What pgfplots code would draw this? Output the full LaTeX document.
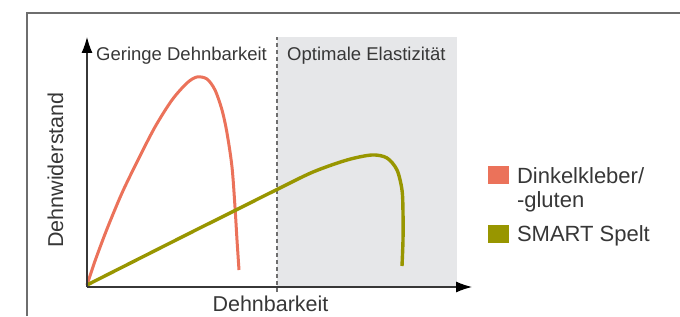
\documentclass[border=0pt]{standalone}
\usepackage{pgfplots}
\pgfplotsset{compat=1.18}
\usetikzlibrary{arrows.meta}
\usepackage{fontspec}
\setmainfont{Liberation Sans}
\definecolor{dinkel}{RGB}{235,114,90}
\definecolor{smart}{RGB}{152,150,0}
\definecolor{shade}{RGB}{230,231,233}
\definecolor{txt}{RGB}{55,55,55}
\definecolor{frame}{RGB}{110,110,110}
\begin{document}
\begin{tikzpicture}[x=1pt,y=1pt]
\useasboundingbox (0,0) rectangle (680,316);
\draw[frame, line width=1.4pt] (27,0) -- (27,303) -- (680,303);
\begin{axis}[
  at={(87pt,29pt)}, anchor=south west,
  scale only axis, width=385pt, height=250pt,
  xmin=0, xmax=385, ymin=0, ymax=250,
  enlargelimits=false, clip=false,
  axis lines=left,
  axis line style={draw=txt, line width=1.1pt, -{Latex[length=16pt,width=11pt,black]}},
  xtick=\empty, ytick=\empty,
  axis on top,
  legend style={at={(axis cs:401,122)}, anchor=north west, draw=none, fill=none,
    inner sep=0pt, outer sep=0pt, row sep=0pt, column sep=8pt,
    nodes={inner sep=0pt, text=txt, text height=, text depth=},
    font=\fontsize{22pt}{25pt}\selectfont,
    cells={anchor=base west}},
  legend image code/.code={\fill[#1, draw=none] (0pt,-1pt) rectangle (21pt,17pt);},
]
% shaded region
\addplot[fill=shade, draw=none, forget plot] coordinates {(190,0) (370,0) (370,250) (190,250)} -- cycle;
% dashed divider
\addplot[frame, line width=1.6pt, dash pattern=on 4pt off 3pt, forget plot] coordinates {(190,-5) (190,250)};
% Dinkelkleber
\addplot[dinkel, line width=3pt, smooth, tension=0.5, forget plot] coordinates {
(0,2) (8,26) (20,58) (35,94) (51,127) (68,160) (85,187) (100,204) (110,210) (120,208)
(128,197) (135,177) (140,154) (145,120) (148,80) (150,47) (152,17)};
% SMART Spelt
\addplot[smart, line width=3.4pt, smooth, tension=0.5, forget plot] coordinates {
(0,2) (95,50) (143,74) (191,98) (226,115) (260,127) (285,132) (300,129) (310,117)
(315,97) (316,74) (316,47) (315,21)};
\addlegendimage{dinkel, fill=dinkel, draw=none}
\addlegendentry{Dinkelkleber/\rule[-7pt]{0pt}{25pt}}
\addlegendimage{legend image code/.code={}}
\addlegendentry{-gluten\rule[-16pt]{0pt}{34pt}}
\addlegendimage{smart, fill=smart, draw=none}
\addlegendentry{SMART Spelt\rule[-7pt]{0pt}{25pt}}
\node[anchor=base west, text=txt, inner sep=0pt, font=\fontsize{18.5pt}{22pt}\selectfont] at (axis cs:9,226) {Geringe Dehnbarkeit};
\node[anchor=base west, text=txt, inner sep=0pt, font=\fontsize{18.5pt}{22pt}\selectfont] at (axis cs:200,226) {Optimale Elastizität};
\node[anchor=base, text=txt, inner sep=0pt, font=\fontsize{21.5pt}{25pt}\selectfont] at (axis cs:183.5,-24) {Dehnbarkeit};
\node[anchor=center, rotate=90, text=txt, inner sep=0pt, font=\fontsize{21.5pt}{25pt}\selectfont] at (axis cs:-31.5,117) {Dehnwiderstand};
\end{axis}
\end{tikzpicture}
\end{document}
